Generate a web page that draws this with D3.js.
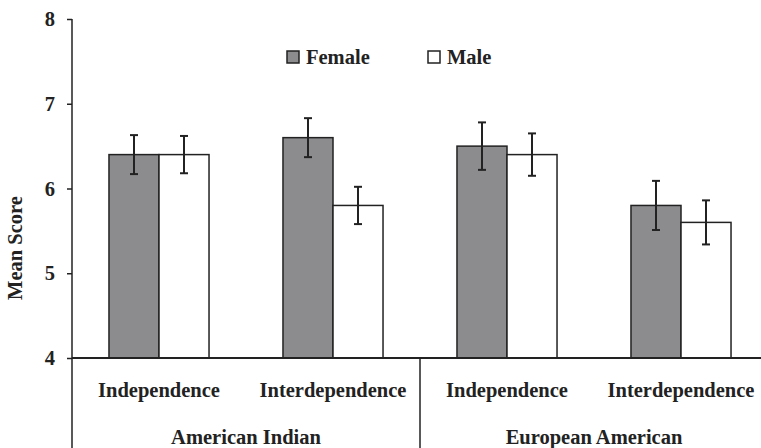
<!DOCTYPE html>
<html lang="en">
<head>
<meta charset="UTF-8">
<title>Mean Score</title>
<script src="https://cdn.jsdelivr.net/npm/d3@7"></script>
<style>
  body { margin: 0; background: #fff; }
  text { font-family: "Liberation Serif", "Times New Roman", serif; font-weight: bold; fill: #222; }
</style>
</head>
<body>
<script>
const categories = ['AI-Independence', 'AI-Interdependence', 'EA-Independence', 'EA-Interdependence'];
const categoryLabels = ['Independence', 'Interdependence', 'Independence', 'Interdependence'];
const groups = ['American Indian', 'European American'];
const series = ['Female', 'Male'];
const femaleMeans = [6.4, 6.6, 6.5, 5.8];
const maleMeans = [6.4, 5.8, 6.4, 5.6];
const femaleErr = [0.23, 0.23, 0.28, 0.29];
const maleErr = [0.22, 0.22, 0.25, 0.26];
const yTicks = [4, 5, 6, 7, 8];

const width = 761, height = 448;
const plotLeft = 72, plotTop = 19, plotBottom = 358, plotRight = 768;
const fontSize = 20.5;
const colors = { Female: '#8c8c8f', Male: '#ffffff' };

const svg = d3.select('body').append('svg')
  .attr('width', width)
  .attr('height', height);

const y = d3.scaleLinear().domain([4, 8]).range([plotBottom, plotTop]);

const x = d3.scaleBand()
  .domain(categories)
  .range([plotLeft, plotRight])
  .paddingInner(0.425)
  .paddingOuter(0.2125);

const xSub = d3.scaleBand().domain(series).range([0, x.bandwidth()]);

// rows for the bars
const rows = [];
categories.forEach((c, i) => {
  rows.push({ cat: c, s: 'Female', v: femaleMeans[i], e: femaleErr[i] });
  rows.push({ cat: c, s: 'Male', v: maleMeans[i], e: maleErr[i] });
});

svg.append('g').selectAll('rect')
  .data(rows)
  .enter()
  .append('rect')
  .attr('x', d => x(d.cat) + xSub(d.s))
  .attr('y', d => y(d.v))
  .attr('width', xSub.bandwidth())
  .attr('height', d => y(4) - y(d.v))
  .attr('fill', d => colors[d.s])
  .attr('stroke', '#222')
  .attr('stroke-width', 1.5);

// error bars
const err = svg.append('g').attr('stroke', '#222').attr('stroke-width', 2);
rows.forEach(d => {
  const cx = x(d.cat) + xSub(d.s) + xSub.bandwidth() / 2;
  err.append('line').attr('x1', cx).attr('x2', cx).attr('y1', y(d.v + d.e)).attr('y2', y(d.v - d.e));
  err.append('line').attr('x1', cx - 4).attr('x2', cx + 4).attr('y1', y(d.v + d.e)).attr('y2', y(d.v + d.e));
  err.append('line').attr('x1', cx - 4).attr('x2', cx + 4).attr('y1', y(d.v - d.e)).attr('y2', y(d.v - d.e));
});

// y axis
const yAxis = d3.axisLeft(y).tickValues(yTicks).tickSize(5).tickPadding(12).tickFormat(d3.format('d'));
const yg = svg.append('g')
  .attr('transform', `translate(${plotLeft},0)`)
  .call(yAxis);
yg.select('.domain').remove();
yg.selectAll('line').attr('stroke', '#222').attr('stroke-width', 1.5);
yg.selectAll('text').attr('font-size', fontSize).style('font-family', '"Liberation Serif", serif').style('font-weight', 'bold').attr('fill', '#222');

const axisColor = '#222';
// vertical axis line, continues down through the label area
svg.append('line')
  .attr('x1', plotLeft).attr('x2', plotLeft).attr('y1', plotTop).attr('y2', height)
  .attr('stroke', axisColor).attr('stroke-width', 1.5);
// baseline
svg.append('line')
  .attr('x1', plotLeft).attr('x2', width).attr('y1', plotBottom).attr('y2', plotBottom)
  .attr('stroke', axisColor).attr('stroke-width', 2);
// group separator
const sepX = (x(categories[1]) + x.bandwidth() + x(categories[2])) / 2;
svg.append('line')
  .attr('x1', sepX).attr('x2', sepX).attr('y1', plotBottom).attr('y2', height)
  .attr('stroke', axisColor).attr('stroke-width', 1.5);

// category labels
svg.append('g').selectAll('text')
  .data(categories)
  .enter()
  .append('text')
  .attr('x', d => x(d) + x.bandwidth() / 2)
  .attr('y', 397)
  .attr('text-anchor', 'middle')
  .attr('font-size', fontSize)
  .text((d, i) => categoryLabels[i]);

// group labels
groups.forEach((g, i) => {
  const a = x(categories[i * 2]);
  const b = x(categories[i * 2 + 1]) + x.bandwidth();
  svg.append('text')
    .attr('x', (a + b) / 2)
    .attr('y', 444)
    .attr('text-anchor', 'middle')
    .attr('font-size', fontSize)
    .text(g);
});

// y title
svg.append('text')
  .attr('transform', 'translate(22,248) rotate(-90)')
  .attr('text-anchor', 'middle')
  .attr('font-size', fontSize)
  .text('Mean Score');

// legend
const legendX = [287, 428];
series.forEach((s, i) => {
  svg.append('rect')
    .attr('x', legendX[i]).attr('y', 51)
    .attr('width', 12).attr('height', 12)
    .attr('fill', colors[s])
    .attr('stroke', '#222').attr('stroke-width', 1.5);
  svg.append('text')
    .attr('x', legendX[i] + 19)
    .attr('y', 64)
    .attr('font-size', fontSize)
    .text(s);
});
</script>
</body>
</html>
